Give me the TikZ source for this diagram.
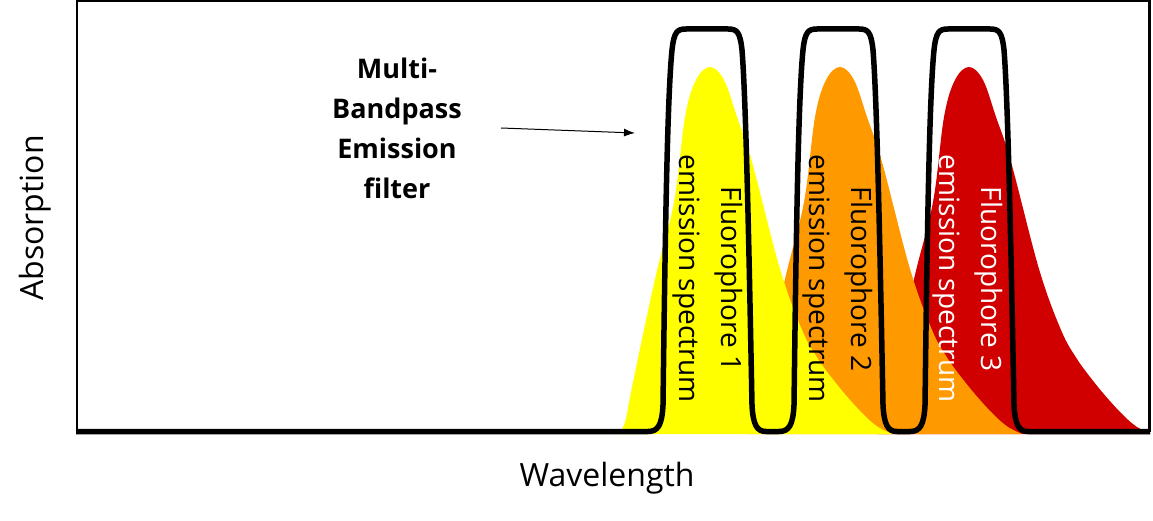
\documentclass[tikz,border=0pt]{standalone}
\usepackage{fontspec}
\setmainfont{Open Sans}
\usetikzlibrary{arrows.meta}
\definecolor{fluoyellow}{RGB}{255,255,0}
\definecolor{fluoorange}{RGB}{255,153,0}
\definecolor{fluored}{RGB}{208,0,0}
% one emission spectrum, peak at the origin, baseline at y=0
\newcommand{\spectrum}{plot[smooth,tension=0.6] coordinates {(-92,0) (-85,-12) (-77,-52) (-55,-155) (-36,-232) (-25,-317) (-14,-354) (0,-367) (14,-354) (27,-317) (42,-272) (70,-165) (92,-104) (108,-75) (125,-52) (140,-34) (155,-18) (168,-7) (182,0)} -- cycle}
% one pass band of the filter, shifted by #1
\newcommand{\passband}[1]{-- ({648+#1},431.5) .. controls ({658+#1},431.5) and ({662+#1},425) .. ({663+#1},405) .. controls ({665+#1},250) and ({667+#1},100) .. ({672+#1},50) .. controls ({674+#1},32) and ({677+#1},29) .. ({686+#1},29) -- ({728+#1},29) .. controls ({737+#1},29) and ({740+#1},32) .. ({742+#1},50) .. controls ({746+#1},100) and ({749+#1},250) .. ({752+#1},405) .. controls ({753+#1},425) and ({757+#1},431.5) .. ({766+#1},431.5)}
\begin{document}
\begin{tikzpicture}[x=1pt,y=-1pt]
\tikzstyle{frame}=[draw,line width=2.5pt]
\tikzstyle{filter}=[draw,line width=5.5pt,line join=round]
\tikzstyle{axislabel}=[font=\fontsize{32}{38}\selectfont]
\tikzstyle{spectext}=[align=center,font=\fontsize{28}{42}\selectfont]
\tikzstyle{filterlabel}=[align=center,font=\bfseries\fontsize{27}{40}\selectfont]
\useasboundingbox (0,0) rectangle (1153,521);

\draw[frame] (77,431.5) -- (77,1.2) -- (1149.5,1.2) -- (1149.5,431.5);

% spectra, red first so the others lie on top
\fill[fluored, shift={(969,434)}] \spectrum;
\fill[fluoorange, shift={(840,434)}] \spectrum;
\fill[fluoyellow, shift={(710,434)}] \spectrum;

\draw[filter] (76,431.5) \passband{0} \passband{131} \passband{262} -- (1150,431.5);

\draw (708,279) node[spectext,rotate=-90] (fluo1) {Fluorophore 1\\emission spectrum};
\draw (838,279) node[spectext,rotate=-90] (fluo2) {Fluorophore 2\\emission spectrum};
\draw (968,279) node[spectext,rotate=-90,text=white] (fluo3) {Fluorophore 3\\emission spectrum};

\draw (397,128) node[filterlabel] (filt) {Multi-\\Bandpass\\Emission\\filter};
\coordinate (filtfrom) at (501,128);
\coordinate (filtto) at (635,133);
\draw[line width=1pt,-{Latex[length=11pt,width=8pt]}] (filtfrom) -- (filtto);

\draw (35,218) node[axislabel,rotate=90] (ylab) {Absorption};
\draw (607,478) node[axislabel] (xlab) {Wavelength};
\end{tikzpicture}
\end{document}
